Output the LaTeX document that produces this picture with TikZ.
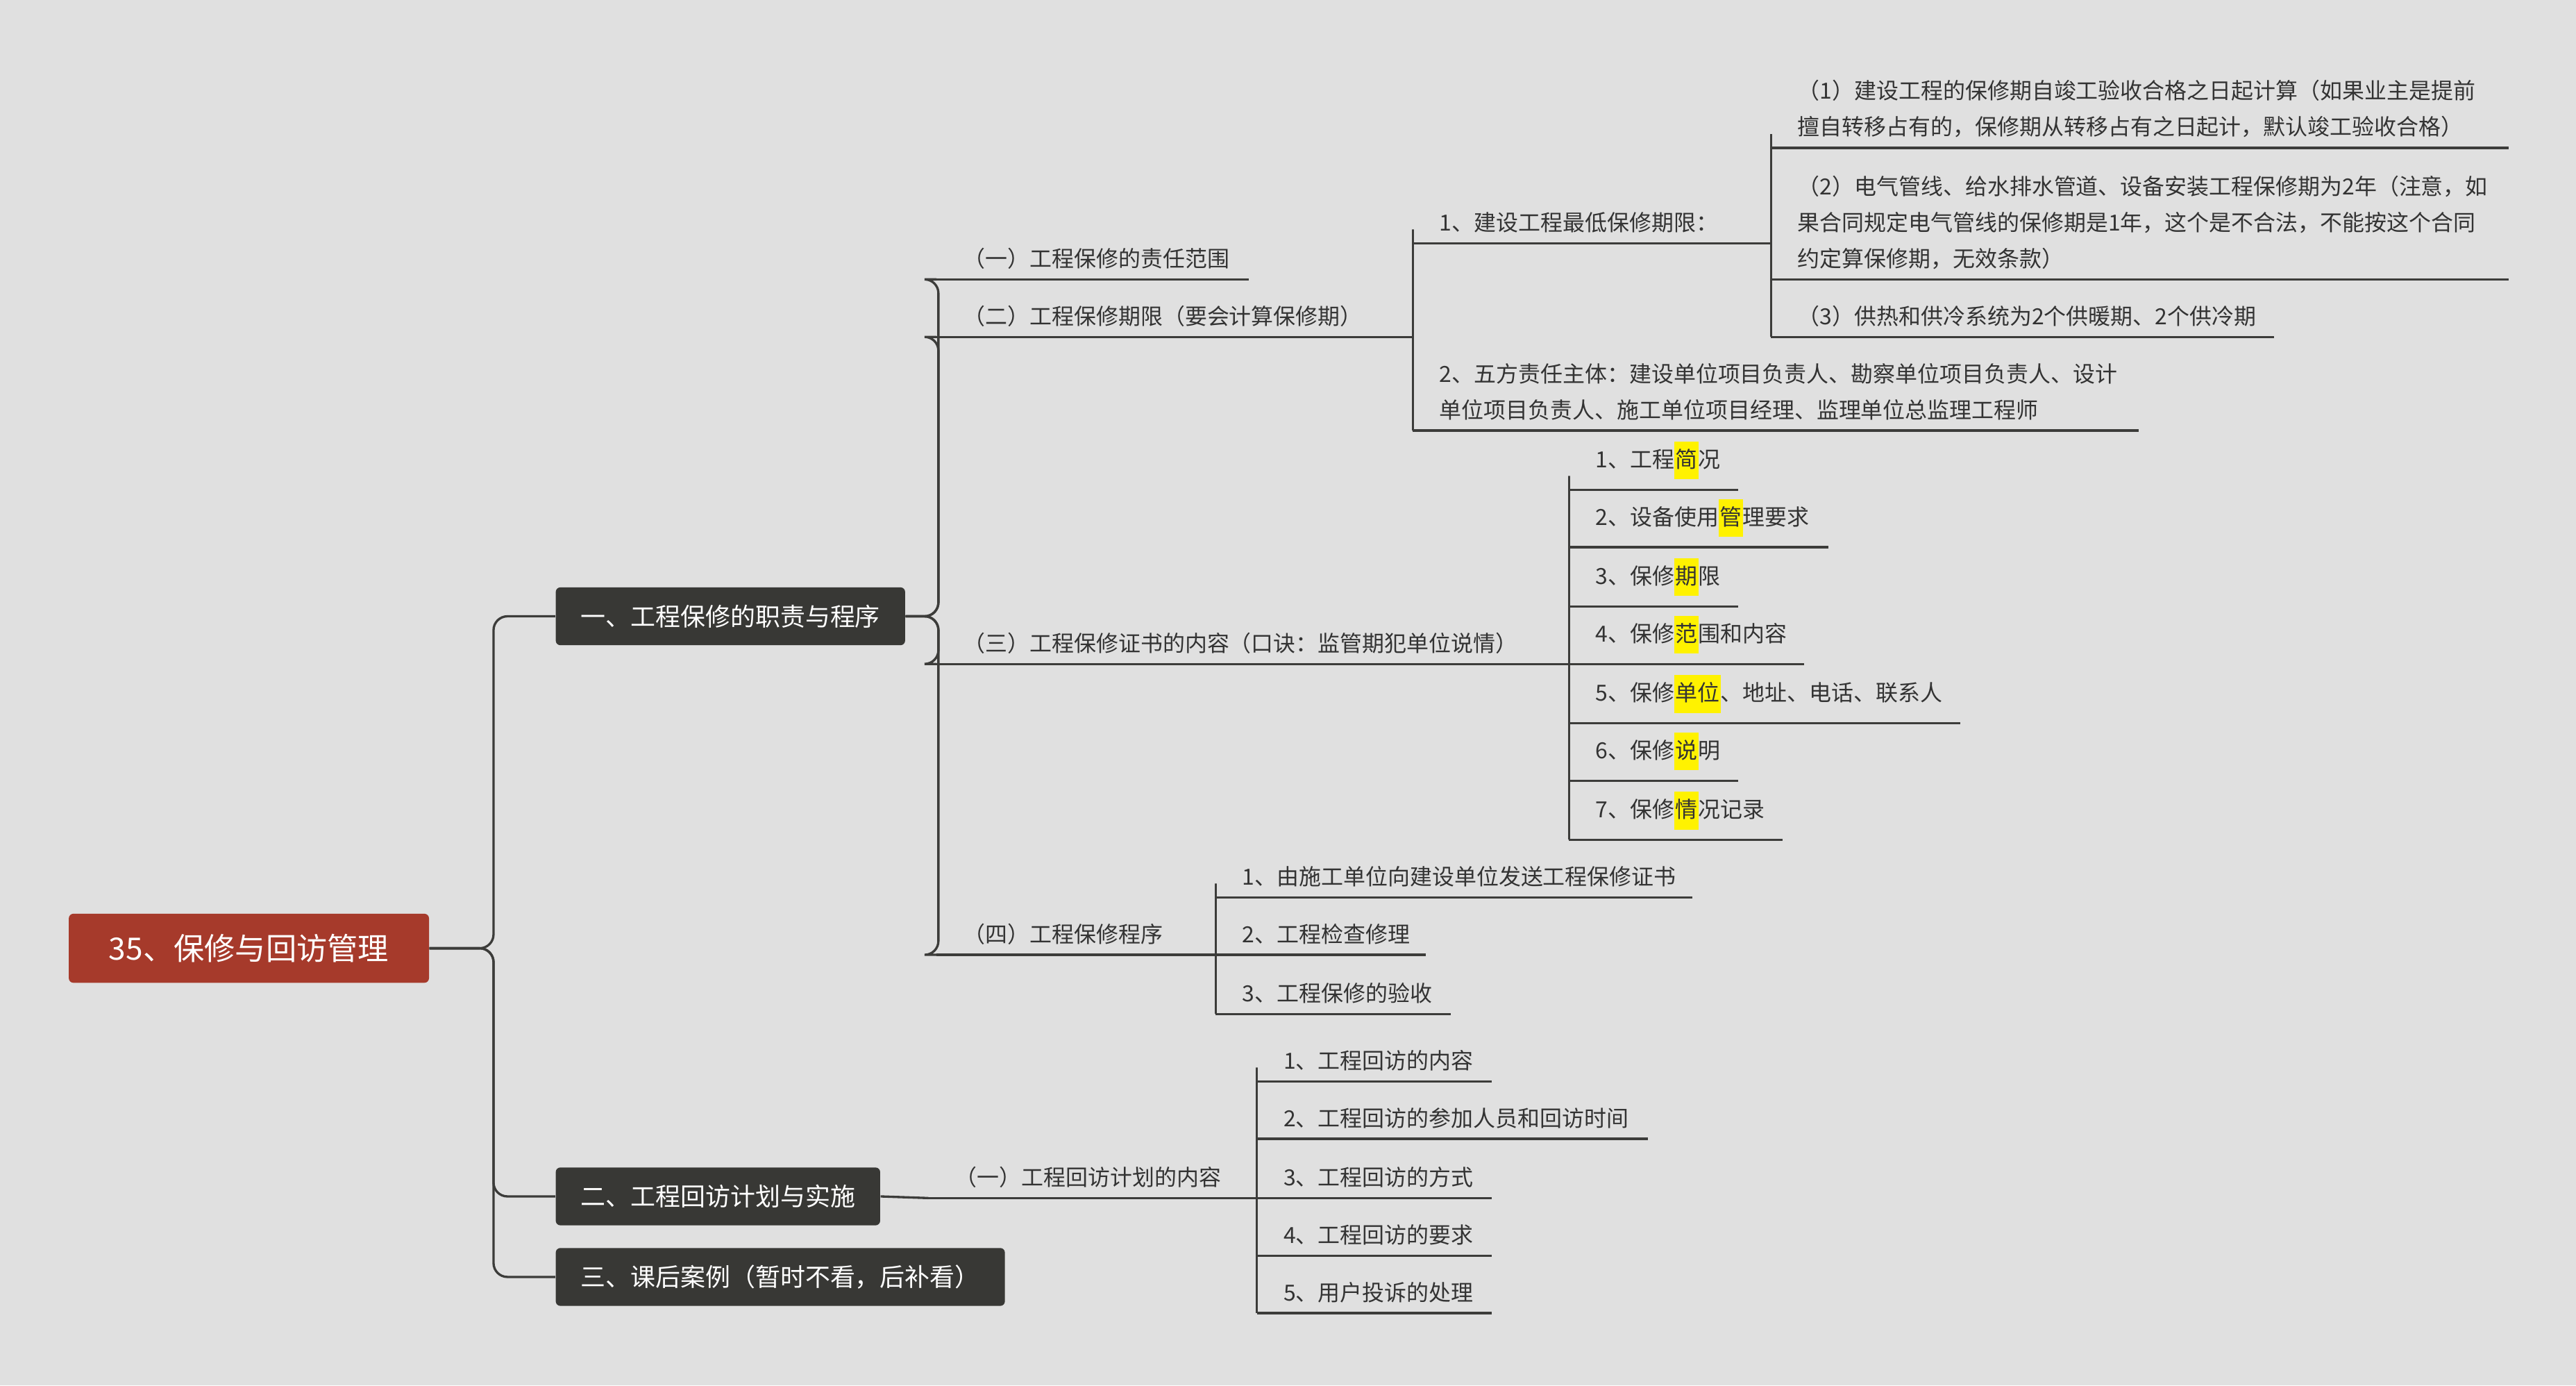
\documentclass[tikz,border=0pt]{standalone}
\usepackage{fontspec}
\setmainfont{Noto Sans CJK SC}
\usetikzlibrary{positioning}
\definecolor{bgc}{HTML}{E0E0E0}
\definecolor{linec}{HTML}{3C3C3A}
\definecolor{rootc}{HTML}{A63A2B}
\definecolor{boxc}{HTML}{383835}
\definecolor{txtc}{HTML}{333333}
\newcommand{\hlt}[1]{{\setlength{\fboxsep}{0.4pt}\colorbox{yellow}{\strut #1}}}
\tikzset{
  root/.style={rectangle, rounded corners=2pt, fill=rootc, text=white, font=\fontsize{13.3}{16}\selectfont, minimum width=5.48cm, minimum height=1.05cm},
  topic/.style={rectangle, rounded corners=2pt, fill=boxc, text=white, font=\fontsize{10.8}{13}\selectfont, minimum height=0.88cm, inner xsep=0.38cm},
  item/.style={anchor=south west, inner sep=0pt, text=txtc, align=left, font=\fontsize{9.6}{15.6}\selectfont},
  conn/.style={draw=linec, line width=1pt, rounded corners=6},
  uline/.style={draw=linec, line width=1pt}
}
% \leaf{name}{x start}{x end}{y of line}{text}
\newcommand{\leaf}[5]{%
  \coordinate (#1-s) at (#2+8,#4);
  \coordinate (#1-e) at (#3,#4);
  \path[uline] (#2+8,#4) -- (#1-e);
  \node[item] (#1) at (#2+24,#4-6) {#5};}
\begin{document}
\begin{tikzpicture}[x=0.025cm, y=-0.025cm]
  \useasboundingbox[fill=bgc] (0,0) rectangle (1568,843);
  %% root and topics
  \node[root] (R) at (151.5,577) {35、保修与回访管理};
  \node[topic, anchor=west] (T1) at (338,375) {一、工程保修的职责与程序};
  \node[topic, anchor=west] (T2) at (338,728) {二、工程回访计划与实施};
  \node[topic, anchor=west] (T3) at (338,777) {三、课后案例（暂时不看，后补看）};
  %% second level
  \leaf{A1}{562}{760}{170}{（一）工程保修的责任范围}
  \leaf{A2}{562}{860}{205}{（二）工程保修期限（要会计算保修期）}
  \leaf{A3}{562}{955}{404}{（三）工程保修证书的内容（口诀：监管期犯单位说情）}
  \leaf{A4}{562}{740}{581}{（四）工程保修程序}
  \leaf{B1}{557}{765}{729}{（一）工程回访计划的内容}
  %% under (二)
  \leaf{P1}{852}{1078}{148}{1、建设工程最低保修期限：}
  \leaf{P2}{852}{1302}{262}{2、五方责任主体：建设单位项目负责人、勘察单位项目负责人、设计\\单位项目负责人、施工单位项目经理、监理单位总监理工程师}
  \leaf{Q1}{1070}{1527}{90}{（1）建设工程的保修期自竣工验收合格之日起计算（如果业主是提前\\擅自转移占有的，保修期从转移占有之日起计，默认竣工验收合格）}
  \leaf{Q2}{1070}{1527}{170}{（2）电气管线、给水排水管道、设备安装工程保修期为2年（注意，如\\果合同规定电气管线的保修期是1年，这个是不合法，不能按这个合同\\约定算保修期，无效条款）}
  \leaf{Q3}{1070}{1384}{205}{（3）供热和供冷系统为2个供暖期、2个供冷期}
  %% under (三)
  \leaf{C1}{947}{1058}{298}{1、工程\hlt{简}况}
  \leaf{C2}{947}{1113}{333}{2、设备使用\hlt{管}理要求}
  \leaf{C3}{947}{1058}{369}{3、保修\hlt{期}限}
  \leaf{C4}{947}{1098}{404}{4、保修\hlt{范}围和内容}
  \leaf{C5}{947}{1193}{440}{5、保修\hlt{单位}、地址、电话、联系人}
  \leaf{C6}{947}{1058}{475}{6、保修\hlt{说}明}
  \leaf{C7}{947}{1085}{511}{7、保修\hlt{情}况记录}
  %% under (四)
  \leaf{D1}{732}{1030}{546}{1、由施工单位向建设单位发送工程保修证书}
  \leaf{D2}{732}{868}{581}{2、工程检查修理}
  \leaf{D3}{732}{883}{617}{3、工程保修的验收}
  %% under 回访
  \leaf{E1}{757}{908}{658}{1、工程回访的内容}
  \leaf{E2}{757}{1003}{693}{2、工程回访的参加人员和回访时间}
  \leaf{E3}{757}{908}{729}{3、工程回访的方式}
  \leaf{E4}{757}{908}{764}{4、工程回访的要求}
  \leaf{E5}{757}{908}{799}{5、用户投诉的处理}
  %% edges
  \foreach \t in {T1,T2,T3} \path[conn] (R.east) -- ++(39,0) |- (\t.west);
  \foreach \a in {A1,A2,A3,A4} \path[conn] (T1.east) -- ++(20,0) |- (\a-s);
  \path[conn] (T2.east) -- (B1-s);
  \foreach \p in {P1,P2} \path[conn] (A2-e) |- (\p-s);
  \foreach \q in {Q1,Q2,Q3} \path[conn] (P1-e) |- (\q-s);
  \foreach \c in {C1,C2,C3,C4,C5,C6,C7} \path[conn] (A3-e) |- (\c-s);
  \foreach \d in {D1,D2,D3} \path[conn] (A4-e) |- (\d-s);
  \foreach \e in {E1,E2,E3,E4,E5} \path[conn] (B1-e) |- (\e-s);
\end{tikzpicture}
\end{document}
